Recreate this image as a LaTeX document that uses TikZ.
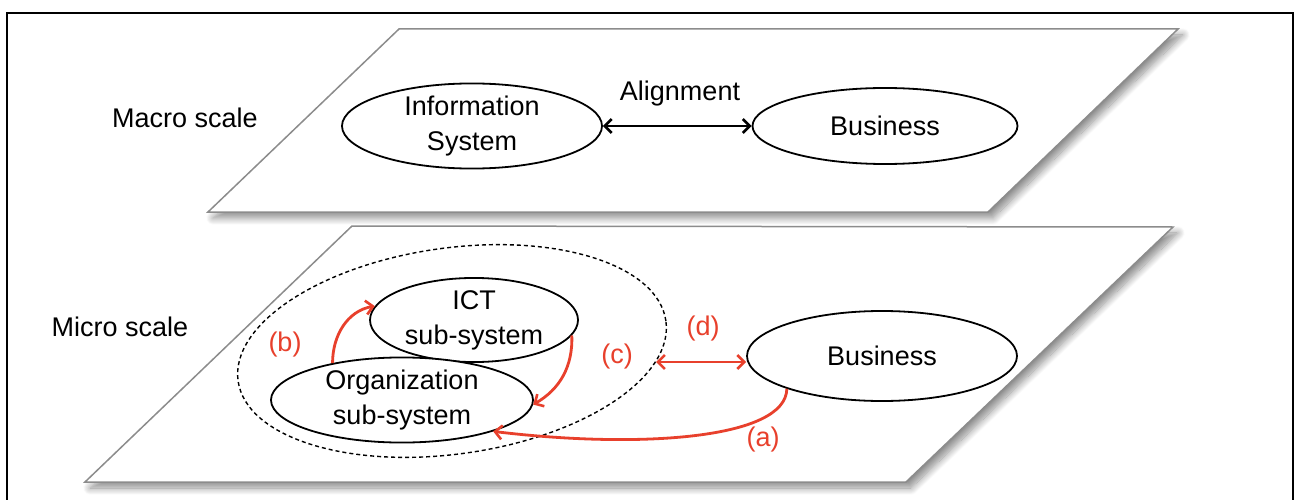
\documentclass[tikz,border=0pt]{standalone}
\usepackage{fontspec}
\setmainfont{Liberation Sans}
\usetikzlibrary{shapes.geometric,shadows.blur,arrows.meta}
\definecolor{linkred}{RGB}{232,64,44}
\definecolor{planegray}{RGB}{140,140,140}
\tikzset{
  plane/.style={draw=planegray, line width=1.5pt, fill=white,
    blur shadow={shadow xshift=5pt, shadow yshift=-6pt, shadow blur radius=7pt,
      shadow blur steps=12, shadow opacity=45}},
  bubble/.style={ellipse, draw=black, line width=1.8pt, fill=white, inner sep=0pt,
    align=center, font=\fontsize{27}{35}\selectfont},
  lbl/.style={font=\fontsize{27}{35}\selectfont},
  redlbl/.style={font=\fontsize{27}{35}\selectfont, text=linkred},
  barb/.style={Straight Barb[length=7pt,width=14pt,line width=2.6pt]},
  redlink/.style={draw=linkred, line width=2.8pt, -{Straight Barb[length=7pt,width=14pt,line width=2.6pt]}},
  redlinkboth/.style={draw=linkred, line width=2.8pt,
    {Straight Barb[length=7pt,width=14pt,line width=2.6pt]}-{Straight Barb[length=7pt,width=14pt,line width=2.6pt]}},
  blacklinkboth/.style={draw=black, line width=2.8pt,
    {Straight Barb[length=7pt,width=14pt,line width=2.6pt]}-{Straight Barb[length=7pt,width=14pt,line width=2.6pt]}},
}
\begin{document}
\begin{tikzpicture}[x=1pt,y=1pt]
\useasboundingbox (0,0) rectangle (1295,499);
\clip (0,0) rectangle (1295,499);
% outer frame (its lower edge runs off the page)
\draw[line width=2.5pt] (7,-20) rectangle (1293,486);

% the two planes
\path[plane] (399,470) -- (1178,470) -- (988,287) -- (208,287) -- cycle;
\path[plane] (352,273) -- (1173,272) -- (906,17) -- (85,17) -- cycle;

% macro scale
\node[lbl] (macro) at (185,381) {Macro scale};
\node[bubble, minimum width=260pt, minimum height=76pt] (is) at (472,373) {Information\\System};
\node[bubble, minimum width=265pt, minimum height=76pt] (bus1) at (885,373) {Business};
\draw[blacklinkboth] (is.east) -- (bus1.west);
\node[lbl] (align) at (680,405) {Alignment};

% micro scale
\node[lbl] (micro) at (120,172) {Micro scale};
\node[ellipse, draw=black, dash pattern=on 4pt off 3pt, line width=1.4pt, minimum width=432pt,
  minimum height=206pt, rotate=8, inner sep=0pt] (group) at (452,148) {};
\node[bubble, minimum width=208pt, minimum height=84pt] (ict) at (474,179) {ICT\\sub-system};
\node[bubble, minimum width=262pt, minimum height=82pt] (org) at (402,99) {Organization\\sub-system};
\node[bubble, minimum width=270pt, minimum height=90pt] (bus2) at (882,143) {Business};

% relations
\draw[redlink] (org.152) to[out=90,in=190] (ict.172);
\draw[redlink] (ict.-9) to[out=-88,in=30] (org.-2);
\coordinate (dstart) at (656,137);
\draw[redlinkboth] (dstart) -- (bus2.west |- dstart);
\draw[redlink] (bus2.199) .. controls (786,60) and (640,50) .. (org.-19);

\node[redlbl] (lb) at (285,154) {(b)};
\node[redlbl] (lc) at (617,142) {(c)};
\node[redlbl] (ld) at (703,170) {(d)};
\node[redlbl] (la) at (763,59) {(a)};
\end{tikzpicture}
\end{document}
